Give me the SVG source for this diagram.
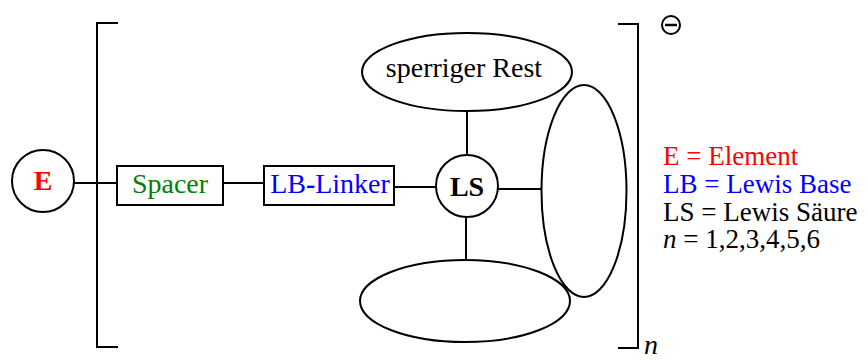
<svg xmlns="http://www.w3.org/2000/svg" width="868" height="360" viewBox="0 0 868 360">
<style>
.s{fill:none;stroke:#000;stroke-width:2}
.n{fill:#fff;stroke:#000;stroke-width:2}
text{font-family:'Liberation Serif','DejaVu Serif',serif;font-size:28px}
.c{text-anchor:middle}
.lg{font-size:27px}
</style>
<rect width="868" height="360" fill="#fff"/>
<g id="connectors" class="s">
<line x1="74" y1="183" x2="117" y2="183"/>
<line x1="223" y1="183" x2="264" y2="183"/>
<line x1="394" y1="187" x2="436" y2="187"/>
<line x1="467" y1="111" x2="467" y2="155"/>
<line x1="466" y1="217" x2="466" y2="261"/>
<line x1="498" y1="189" x2="542" y2="189"/>
</g>
<g id="bracket-left"><polyline class="s" points="118,23 97,23 97,347 118,347"/></g>
<g id="bracket-right"><polyline class="s" points="618,24 638,24 638,348 618,348"/></g>
<g id="charge"><circle cx="671" cy="25" r="9" class="s" stroke-width="1.8"/><line x1="665" y1="25" x2="677" y2="25" stroke="#000" stroke-width="2.5"/></g>
<g id="n-index"><text x="644" y="354" font-style="italic" font-size="24">n</text></g>
<g id="E"><circle cx="43" cy="181" r="31" class="n"/><text x="43" y="190" class="c" fill="#f00" font-weight="bold">E</text></g>
<g id="spacer"><rect x="117" y="166" width="106" height="39" class="n"/><text x="170" y="193" class="c" fill="#008000">Spacer</text></g>
<g id="lb-linker"><rect x="264" y="166" width="130" height="39" class="n"/><text x="330" y="193" class="c" fill="#00f">LB<tspan font-weight="bold">-</tspan>Linker</text></g>
<g id="LS"><circle cx="467" cy="186" r="31" class="n"/><text x="467" y="196" class="c" font-weight="bold">LS</text></g>
<g id="rest"><ellipse cx="467" cy="72" rx="105" ry="39" class="n"/><text x="464" y="77" class="c">sperriger Rest</text></g>
<g id="bottom-ellipse"><ellipse cx="465" cy="301" rx="105" ry="41" class="n"/></g>
<g id="right-ellipse"><ellipse cx="584" cy="191" rx="42.5" ry="106" class="n"/></g>
<g id="legend">
<text x="663" y="165" class="lg" fill="#f00">E = Element</text>
<text x="663" y="193" class="lg" fill="#00f">LB = Lewis Base</text>
<text x="663" y="221" class="lg">LS = Lewis Säure</text>
<text x="663" y="248" class="lg"><tspan font-style="italic">n</tspan> = 1,2,3,4,5,6</text>
</g>
</svg>
